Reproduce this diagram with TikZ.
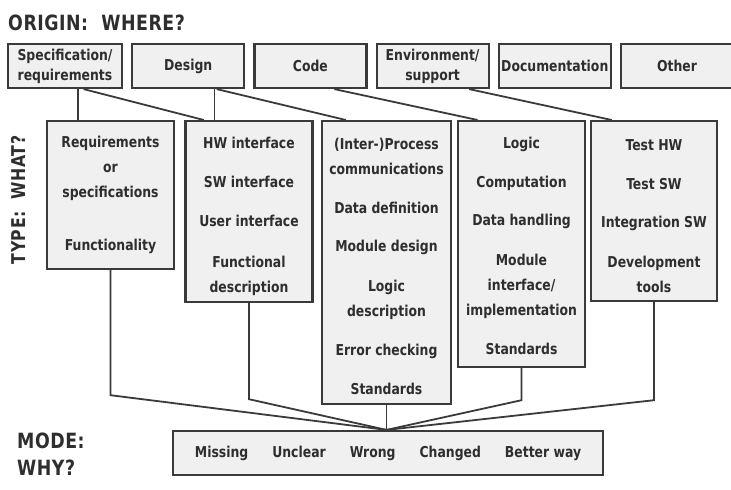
\documentclass[tikz,border=0pt]{standalone}
\usepackage{fontspec}
\setmainfont{DejaVu Sans Condensed}[BoldFont={DejaVu Sans Condensed Bold}, FakeStretch=0.92]
\usetikzlibrary{positioning,calc}

\definecolor{boxfill}{HTML}{F0F0F0}
\definecolor{ink}{HTML}{3A3A3A}
\definecolor{txt}{HTML}{2E2E2E}

\newcommand{\padtop}[1]{\rule{0pt}{#1}}

\tikzset{
    heading/.style={font=\bfseries\fontsize{21}{22}\selectfont\addfontfeature{LetterSpace=2.5}, text=txt, inner sep=0pt},
    origin/.style={draw=ink, line width=2.2pt, fill=boxfill, minimum width=112pt,
        minimum height=44pt, inner sep=0pt, align=center, text=txt,
        font=\bfseries\fontsize{15}{20}\selectfont},
    typebox/.style={draw=ink, line width=2.2pt, fill=boxfill, minimum width=127pt,
        minimum height=#1, inner sep=0pt, align=center, anchor=north, text=txt,
        font=\bfseries\fontsize{15}{25}\selectfont},
    link/.style={draw=ink, line width=1.8pt}
}

\begin{document}
\begin{tikzpicture}[x=1pt, y=-1pt]
    \useasboundingbox (0,0) rectangle (731,490);

    % Headings
    \node[heading, anchor=base west] (where) at (8,30) {ORIGIN:\ \ WHERE?};
    \node[heading, anchor=base, rotate=90, font=\bfseries\fontsize{19}{20}\selectfont\addfontfeature{LetterSpace=3}]
        (what) at (25,200) {TYPE:\ \ WHAT?};
    \node[heading, anchor=base west] (modelbl) at (17,448) {MODE:};
    \node[heading, anchor=base west] (why) at (17,475) {WHY?};

    % Origin row
    \node[origin, minimum width=114pt] (spec) at (65,66) {Specification/\\requirements};
    \node[origin, right=8pt of spec] (design) {Design};
    \node[origin, right=8pt of design] (code) {Code};
    \node[origin, right=8pt of code] (env) {Environment/\\support};
    \node[origin, right=8pt of env] (doc) {Documentation};
    \node[origin, right=8pt of doc] (other) {Other};

    % Type boxes
    \node[typebox=148pt] (req) at (110.5,120)
        {Requirements\\or\\specifications\\[28pt]Functionality};
    \node[typebox=181pt] (hw) at (249,120)
        {\padtop{21pt}HW interface\\[14pt]SW interface\\[14pt]User interface\\[16pt]Functional\\description};
    \node[typebox=283pt, minimum width=129pt] (proc) at (386.5,120)
        {\padtop{19.5pt}(Inter-)Process\\communications\\[14pt]Data definition\\[13pt]Module design\\[15pt]Logic\\description\\[14pt]Error checking\\[14pt]Standards};
    \node[typebox=246pt] (logic) at (521.5,120)
        {\padtop{15.5pt}Logic\\[14pt]Computation\\[13pt]Data handling\\[15pt]Module\\interface/\\implementation\\[14pt]Standards};
    \node[typebox=180pt, minimum width=126pt] (test) at (654,120)
        {\padtop{21pt}Test HW\\[14pt]Test SW\\[13pt]Integration SW\\[15pt]Development\\tools};

    % Mode box
    \node[origin, minimum width=430pt, font=\bfseries\fontsize{15}{16}\selectfont] (mode) at (388,453)
        {Missing\hspace{24pt}Unclear\hspace{24pt}Wrong\hspace{24pt}Changed\hspace{24pt}Better way};

    % Origin to type
    \coordinate (s1) at ($(spec.south west)!.61!(spec.south east)$);
    \draw[link] (s1) -- (s1 |- req.north);
    \draw[link] ($(spec.south west)!.66!(spec.south east)$) -- ($(hw.north west)!.15!(hw.north east)$);
    \coordinate (d1) at ($(design.south west)!.73!(design.south east)$);
    \draw[link] (d1) -- (d1 |- hw.north);
    \draw[link] ($(design.south west)!.75!(design.south east)$) -- ($(proc.north west)!.19!(proc.north east)$);
    \draw[link] ($(code.south west)!.71!(code.south east)$) -- ($(logic.north west)!.16!(logic.north east)$);
    \draw[link] ($(env.south west)!.82!(env.south east)$) -- ($(test.north west)!.17!(test.north east)$);

    % Type to mode
    \coordinate (hub) at (proc.south |- mode.north);
    \draw[link] (proc.south) -- (hub);
    \draw[link] (req.south) -- ++(0,125) -- (hub);
    \draw[link] (hw.south) -- ++(0,96) -- (hub);
    \draw[link] (logic.south) -- ++(0,32) -- (hub);
    \draw[link] (test.south) -- ++(0,98) -- (hub);

\end{tikzpicture}
\end{document}
